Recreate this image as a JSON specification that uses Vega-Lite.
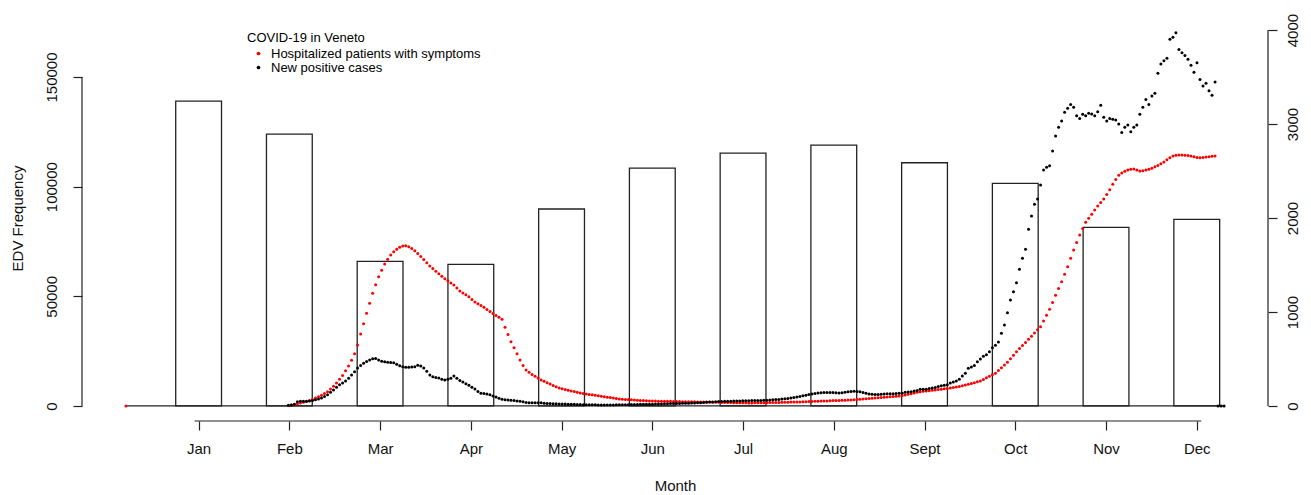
{
  "$schema": "https://vega.github.io/schema/vega-lite/v6.json",
  "width": 1186,
  "height": 406,
  "autosize": {"type": "none"},
  "padding": {"left": 82, "top": 15, "right": 43, "bottom": 74},
  "background": "white",
  "config": {
    "view": {"stroke": null},
    "font": "Liberation Sans",
    "axis": {"grid": false, "tickColor": "#222", "labelColor": "#111", "titleColor": "#111", "tickWidth": 1.2}
  },
  "datasets": {
    "bars": [
      {"m": 1, "edv": 139050}, {"m": 2, "edv": 124000}, {"m": 3, "edv": 65970}, {"m": 4, "edv": 64600},
      {"m": 5, "edv": 89810}, {"m": 6, "edv": 108500}, {"m": 7, "edv": 115340}, {"m": 8, "edv": 118990},
      {"m": 9, "edv": 110920}, {"m": 10, "edv": 101530}, {"m": 11, "edv": 81470}, {"m": 12, "edv": 85110}
    ],
    "daily": [
      {"d":1,"h":0},
      {"d":55,"h":5,"n":7},{"d":56,"h":10,"n":11},{"d":57,"h":16,"n":18},{"d":58,"h":24,"n":45},{"d":59,"h":32,"n":50},{"d":60,"h":40,"n":50},{"d":61,"h":48,"n":50},{"d":62,"h":57,"n":52},{"d":63,"h":70,"n":57},{"d":64,"h":84,"n":65},
      {"d":65,"h":99,"n":74},{"d":66,"h":115,"n":85},{"d":67,"h":133,"n":100},{"d":68,"h":152,"n":120},{"d":69,"h":180,"n":145},{"d":70,"h":210,"n":170},{"d":71,"h":245,"n":198},{"d":72,"h":283,"n":225},{"d":73,"h":323,"n":245},{"d":74,"h":375,"n":265},
      {"d":75,"h":425,"n":295},{"d":76,"h":487,"n":330},{"d":77,"h":555,"n":365},{"d":78,"h":650,"n":405},{"d":79,"h":766,"n":430},{"d":80,"h":876,"n":455},{"d":81,"h":986,"n":472},{"d":82,"h":1093,"n":490},{"d":83,"h":1199,"n":503},{"d":84,"h":1290,"n":505},
      {"d":85,"h":1376,"n":490},{"d":86,"h":1445,"n":477},{"d":87,"h":1510,"n":470},{"d":88,"h":1560,"n":466},{"d":89,"h":1605,"n":463},{"d":90,"h":1642,"n":461},{"d":91,"h":1668,"n":445},{"d":92,"h":1688,"n":428},{"d":93,"h":1702,"n":418},{"d":94,"h":1705,"n":413},
      {"d":95,"h":1695,"n":411},{"d":96,"h":1675,"n":414},{"d":97,"h":1652,"n":418},{"d":98,"h":1622,"n":433},{"d":99,"h":1590,"n":425},{"d":100,"h":1558,"n":405},{"d":101,"h":1523,"n":370},{"d":102,"h":1489,"n":330},{"d":103,"h":1462,"n":312},{"d":104,"h":1434,"n":304},
      {"d":105,"h":1408,"n":298},{"d":106,"h":1381,"n":285},{"d":107,"h":1354,"n":277},{"d":108,"h":1332,"n":284},{"d":109,"h":1309,"n":294},{"d":110,"h":1287,"n":319},{"d":111,"h":1255,"n":295},{"d":112,"h":1223,"n":272},{"d":113,"h":1203,"n":255},{"d":114,"h":1183,"n":236},
      {"d":115,"h":1163,"n":220},{"d":116,"h":1134,"n":200},{"d":117,"h":1106,"n":180},{"d":118,"h":1087,"n":155},{"d":119,"h":1068,"n":135},{"d":120,"h":1050,"n":132},{"d":121,"h":1027,"n":128},{"d":122,"h":1004,"n":118},{"d":123,"h":983,"n":106},{"d":124,"h":963,"n":95},
      {"d":125,"h":943,"n":82},{"d":126,"h":922,"n":72},{"d":127,"h":837,"n":66},{"d":128,"h":760,"n":63},{"d":129,"h":684,"n":60},{"d":130,"h":620,"n":57},{"d":131,"h":556,"n":54},{"d":132,"h":490,"n":50},{"d":133,"h":430,"n":44},{"d":134,"h":383,"n":38},
      {"d":135,"h":358,"n":35},{"d":136,"h":335,"n":35},{"d":137,"h":316,"n":35},{"d":138,"h":297,"n":35},{"d":139,"h":277,"n":34},{"d":140,"h":262,"n":30},{"d":141,"h":248,"n":27},{"d":142,"h":234,"n":25},{"d":143,"h":219,"n":24},{"d":144,"h":205,"n":23},
      {"d":145,"h":191,"n":22},{"d":146,"h":183,"n":21},{"d":147,"h":175,"n":20},{"d":148,"h":168,"n":19},{"d":149,"h":160,"n":18},{"d":150,"h":153,"n":17},{"d":151,"h":145,"n":16},{"d":152,"h":138,"n":15},{"d":153,"h":133,"n":14},{"d":154,"h":128,"n":13},
      {"d":155,"h":123,"n":13},{"d":156,"h":118,"n":12},{"d":157,"h":113,"n":12},{"d":158,"h":108,"n":11},{"d":159,"h":104,"n":11},{"d":160,"h":99,"n":10},{"d":161,"h":94,"n":10},{"d":162,"h":89,"n":11},{"d":163,"h":84,"n":11},{"d":164,"h":79,"n":12},
      {"d":165,"h":74,"n":12},{"d":166,"h":72,"n":13},{"d":167,"h":70,"n":13},{"d":168,"h":68,"n":14},{"d":169,"h":66,"n":15},{"d":170,"h":63,"n":15},{"d":171,"h":61,"n":16},{"d":172,"h":59,"n":17},{"d":173,"h":57,"n":17},{"d":174,"h":55,"n":18},
      {"d":175,"h":53,"n":19},{"d":176,"h":52,"n":19},{"d":177,"h":52,"n":20},{"d":178,"h":51,"n":21},{"d":179,"h":51,"n":22},{"d":180,"h":50,"n":23},{"d":181,"h":49,"n":24},{"d":182,"h":49,"n":25},{"d":183,"h":48,"n":26},{"d":184,"h":47,"n":26},
      {"d":185,"h":47,"n":27},{"d":186,"h":46,"n":28},{"d":187,"h":46,"n":29},{"d":188,"h":45,"n":30},{"d":189,"h":44,"n":31},{"d":190,"h":44,"n":32},{"d":191,"h":43,"n":33},{"d":192,"h":43,"n":35},{"d":193,"h":42,"n":37},{"d":194,"h":42,"n":39},
      {"d":195,"h":41,"n":41},{"d":196,"h":40,"n":43},{"d":197,"h":40,"n":45},{"d":198,"h":39,"n":47},{"d":199,"h":38,"n":48},{"d":200,"h":38,"n":49},{"d":201,"h":37,"n":50},{"d":202,"h":36,"n":51},{"d":203,"h":35,"n":52},{"d":204,"h":35,"n":53},
      {"d":205,"h":34,"n":54},{"d":206,"h":33,"n":55},{"d":207,"h":33,"n":55},{"d":208,"h":32,"n":56},{"d":209,"h":32,"n":57},{"d":210,"h":33,"n":58},{"d":211,"h":33,"n":58},{"d":212,"h":34,"n":59},{"d":213,"h":35,"n":60},{"d":214,"h":35,"n":62},
      {"d":215,"h":36,"n":64},{"d":216,"h":37,"n":66},{"d":217,"h":37,"n":68},{"d":218,"h":38,"n":70},{"d":219,"h":39,"n":73},{"d":220,"h":39,"n":76},{"d":221,"h":40,"n":80},{"d":222,"h":41,"n":85},{"d":223,"h":41,"n":90},{"d":224,"h":42,"n":96},
      {"d":225,"h":43,"n":102},{"d":226,"h":44,"n":108},{"d":227,"h":45,"n":115},{"d":228,"h":47,"n":122},{"d":229,"h":48,"n":128},{"d":230,"h":49,"n":133},{"d":231,"h":50,"n":137},{"d":232,"h":52,"n":140},{"d":233,"h":53,"n":142},{"d":234,"h":54,"n":143},
      {"d":235,"h":55,"n":143},{"d":236,"h":57,"n":142},{"d":237,"h":58,"n":140},{"d":238,"h":59,"n":138},{"d":239,"h":60,"n":140},{"d":240,"h":61,"n":145},{"d":241,"h":63,"n":150},{"d":242,"h":64,"n":155},{"d":243,"h":66,"n":157},{"d":244,"h":69,"n":155},
      {"d":245,"h":72,"n":150},{"d":246,"h":74,"n":143},{"d":247,"h":77,"n":135},{"d":248,"h":80,"n":128},{"d":249,"h":82,"n":124},{"d":250,"h":85,"n":122},{"d":251,"h":88,"n":123},{"d":252,"h":91,"n":125},{"d":253,"h":93,"n":127},{"d":254,"h":96,"n":129},
      {"d":255,"h":99,"n":130},{"d":256,"h":101,"n":131},{"d":257,"h":104,"n":132},{"d":258,"h":107,"n":134},{"d":259,"h":110,"n":135},{"d":260,"h":117,"n":145},{"d":261,"h":124,"n":148},{"d":262,"h":131,"n":152},{"d":263,"h":138,"n":158},{"d":264,"h":145,"n":165},
      {"d":265,"h":152,"n":177},{"d":266,"h":156,"n":177},{"d":267,"h":160,"n":178},{"d":268,"h":163,"n":185},{"d":269,"h":167,"n":190},{"d":270,"h":171,"n":196},{"d":271,"h":174,"n":207},{"d":272,"h":178,"n":216},{"d":273,"h":183,"n":220},{"d":274,"h":187,"n":226},
      {"d":275,"h":192,"n":245},{"d":276,"h":197,"n":256},{"d":277,"h":201,"n":266},{"d":278,"h":206,"n":285},{"d":279,"h":214,"n":320},{"d":280,"h":223,"n":348},{"d":281,"h":231,"n":400},{"d":282,"h":240,"n":415},{"d":283,"h":248,"n":430},{"d":284,"h":257,"n":471},
      {"d":285,"h":266,"n":500},{"d":286,"h":282,"n":530},{"d":287,"h":299,"n":545},{"d":288,"h":315,"n":578},{"d":289,"h":332,"n":620},{"d":290,"h":348,"n":645},{"d":291,"h":377,"n":680},{"d":292,"h":406,"n":773},{"d":293,"h":435,"n":862},{"d":294,"h":466,"n":993},
      {"d":295,"h":503,"n":1127},{"d":296,"h":540,"n":1216},{"d":297,"h":578,"n":1312},{"d":298,"h":611,"n":1454},{"d":299,"h":643,"n":1571},{"d":300,"h":676,"n":1667},{"d":301,"h":709,"n":1880},{"d":302,"h":743,"n":2021},{"d":303,"h":777,"n":2145},{"d":304,"h":810,"n":2202},
      {"d":305,"h":844,"n":2351},{"d":306,"h":905,"n":2511},{"d":307,"h":966,"n":2540},{"d":308,"h":1030,"n":2557},{"d":309,"h":1100,"n":2712},{"d":310,"h":1177,"n":2872},{"d":311,"h":1250,"n":2965},{"d":312,"h":1323,"n":3032},{"d":313,"h":1402,"n":3124},{"d":314,"h":1482,"n":3167},
      {"d":315,"h":1571,"n":3209},{"d":316,"h":1660,"n":3178},{"d":317,"h":1740,"n":3089},{"d":318,"h":1819,"n":3060},{"d":319,"h":1887,"n":3103},{"d":320,"h":1954,"n":3089},{"d":321,"h":1997,"n":3114},{"d":322,"h":2039,"n":3107},{"d":323,"h":2084,"n":3089},{"d":324,"h":2128,"n":3131},
      {"d":325,"h":2165,"n":3199},{"d":326,"h":2202,"n":3071},{"d":327,"h":2250,"n":3032},{"d":328,"h":2300,"n":3060},{"d":329,"h":2360,"n":3050},{"d":330,"h":2410,"n":3043},{"d":331,"h":2455,"n":3000},{"d":332,"h":2478,"n":2911},{"d":333,"h":2497,"n":2965},{"d":334,"h":2510,"n":2989},
      {"d":335,"h":2518,"n":2918},{"d":336,"h":2521,"n":2965},{"d":337,"h":2510,"n":2989},{"d":338,"h":2500,"n":3103},{"d":339,"h":2503,"n":3178},{"d":340,"h":2510,"n":3262},{"d":341,"h":2518,"n":3209},{"d":342,"h":2530,"n":3298},{"d":343,"h":2545,"n":3327},{"d":344,"h":2558,"n":3539},
      {"d":345,"h":2577,"n":3639},{"d":346,"h":2597,"n":3674},{"d":347,"h":2620,"n":3699},{"d":348,"h":2642,"n":3901},{"d":349,"h":2660,"n":3922},{"d":350,"h":2668,"n":3971},{"d":351,"h":2670,"n":3794},{"d":352,"h":2670,"n":3759},{"d":353,"h":2668,"n":3730},{"d":354,"h":2665,"n":3688},
      {"d":355,"h":2660,"n":3624},{"d":356,"h":2652,"n":3550},{"d":357,"h":2645,"n":3652},{"d":358,"h":2640,"n":3475},{"d":359,"h":2644,"n":3404},{"d":360,"h":2650,"n":3433},{"d":361,"h":2653,"n":3354},{"d":362,"h":2656,"n":3305},{"d":363,"h":2660,"n":3447},
      {"d":364,"n":0},{"d":365,"n":0},{"d":366,"n":0}
    ]
  },
  "layer": [
    {
      "data": {"name": "bars"},
      "mark": {"type": "bar", "width": 45.8, "fill": "white", "stroke": "#222", "strokeWidth": 1.3},
      "encoding": {
        "x": {
          "field": "m", "type": "quantitative",
          "scale": {"domain": [-0.23, 12.73], "nice": false, "zero": false},
          "axis": {
            "values": [1, 2, 3, 4, 5, 6, 7, 8, 9, 10, 11, 12],
            "labelExpr": "['Jan','Feb','Mar','Apr','May','Jun','Jul','Aug','Sept','Oct','Nov','Dec'][datum.value - 1]",
            "domain": false, "tickSize": 9, "labelFontSize": 15, "labelPadding": 11,
            "labelFlush": false, "labelOverlap": false,
            "title": "Month", "titleFontSize": 15, "titleFontWeight": "normal", "titlePadding": 22
          }
        },
        "y": {
          "field": "edv", "type": "quantitative",
          "scale": {"domain": [-6857, 178285], "nice": false, "zero": false},
          "axis": {
            "values": [0, 50000, 100000, 150000], "format": "d",
            "labelAngle": -90, "domain": false, "tickSize": 9, "labelFontSize": 15, "labelPadding": 14,
            "labelFlush": false, "labelOverlap": false,
            "title": "EDV Frequency", "titleFontSize": 15, "titleFontWeight": "normal", "titlePadding": 19
          }
        },
        "y2": {"datum": 0}
      }
    },
    {
      "data": {"values": [{}]},
      "mark": {"type": "rule", "color": "#222", "strokeWidth": 1.2},
      "encoding": {
        "x": {"datum": 1, "type": "quantitative", "scale": {"domain": [-0.23, 12.73], "nice": false, "zero": false}, "axis": null},
        "x2": {"datum": 12},
        "y": {"datum": -6857, "type": "quantitative", "scale": {"domain": [-6857, 178285], "nice": false, "zero": false}, "axis": null}
      }
    },
    {
      "data": {"values": [{}]},
      "mark": {"type": "rule", "color": "#222", "strokeWidth": 1.2},
      "encoding": {
        "x": {"datum": -0.23, "type": "quantitative", "scale": {"domain": [-0.23, 12.73], "nice": false, "zero": false}, "axis": null},
        "y": {"datum": 0, "type": "quantitative", "scale": {"domain": [-6857, 178285], "nice": false, "zero": false}, "axis": null},
        "y2": {"datum": 150000}
      }
    },
    {
      "data": {"values": [{}]},
      "mark": {"type": "rule", "color": "#222", "strokeWidth": 1.3},
      "encoding": {
        "x": {"datum": 1, "type": "quantitative", "scale": {"domain": [-13.6, 380.6], "nice": false, "zero": false}, "axis": null},
        "x2": {"datum": 366},
        "y": {"datum": 0, "type": "quantitative", "scale": {"domain": [-160, 4160], "nice": false, "zero": false}, "axis": null}
      }
    },
    {
      "data": {"name": "daily"},
      "transform": [
        {"fold": ["h", "n"], "as": ["s", "v"]},
        {"filter": "isValid(datum.v)"}
      ],
      "mark": {"type": "circle", "size": 9, "opacity": 1},
      "encoding": {
        "x": {
          "field": "d", "type": "quantitative",
          "scale": {"domain": [-13.6, 380.6], "nice": false, "zero": false},
          "axis": null
        },
        "y": {
          "field": "v", "type": "quantitative",
          "scale": {"domain": [-160, 4160], "nice": false, "zero": false},
          "axis": {
            "orient": "right", "values": [0, 1000, 2000, 3000, 4000], "format": "d",
            "labelAngle": -90, "domain": false, "tickSize": 9, "labelFontSize": 15, "labelPadding": 8,
            "labelFlush": false, "labelOverlap": false, "title": null
          }
        },
        "color": {
          "field": "s", "type": "nominal",
          "scale": {"domain": ["h", "n"], "range": ["#ff0000", "#000000"]},
          "legend": {
            "orient": "none", "legendX": 165, "legendY": 17,
            "title": "COVID-19 in Veneto", "titleFontSize": 13, "titleFontWeight": "normal", "titleColor": "#000",
            "titlePadding": 2, "labelFontSize": 13, "labelColor": "#000", "labelLimit": 0,
            "labelExpr": "datum.label == 'h' ? 'Hospitalized patients with symptoms' : 'New positive cases'",
            "symbolType": "circle", "symbolSize": 14, "rowPadding": -2, "symbolOffset": 5, "labelOffset": 6
          }
        }
      }
    },
    {
      "data": {"values": [{}]},
      "mark": {"type": "rule", "color": "#222", "strokeWidth": 1.2},
      "encoding": {
        "x": {"datum": 380.6, "type": "quantitative", "scale": {"domain": [-13.6, 380.6], "nice": false, "zero": false}, "axis": null},
        "y": {"datum": 0, "type": "quantitative", "scale": {"domain": [-160, 4160], "nice": false, "zero": false}, "axis": null},
        "y2": {"datum": 4000}
      }
    }
  ],
  "resolve": {
    "scale": {"x": "independent", "y": "independent"},
    "axis": {"x": "independent", "y": "independent"}
  }
}
